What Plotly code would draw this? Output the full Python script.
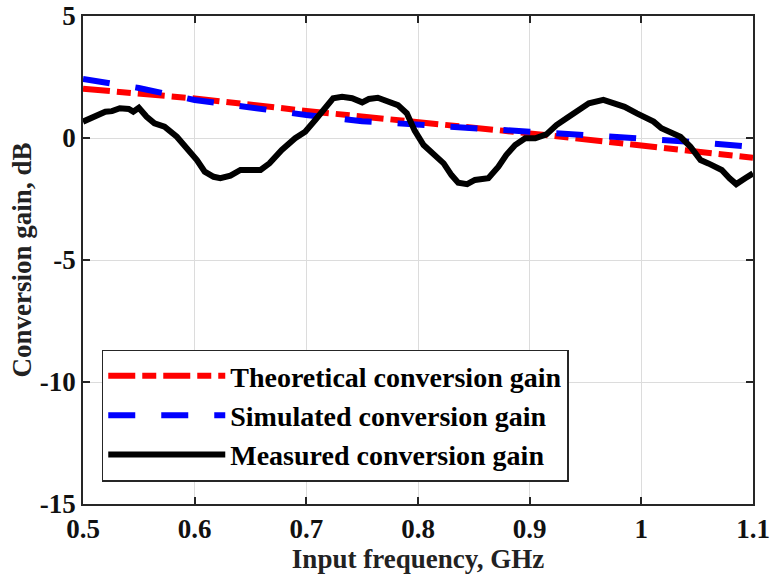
import plotly.graph_objects as go

# Theoretical conversion gain
theo_f = [0.5, 0.6, 0.7, 0.8, 0.9, 1.0, 1.1]
theo_g = [2.02, 1.62, 1.11, 0.67, 0.19, -0.31, -0.81]

# Simulated conversion gain
sim_f = [0.5, 0.55, 0.6, 0.65, 0.7, 0.75, 0.8, 0.85, 0.9, 0.95, 1.0, 1.05, 1.1]
sim_g = [2.42, 2.05, 1.56, 1.22, 0.94, 0.69, 0.53, 0.41, 0.26, 0.12, -0.01, -0.17, -0.37]

# Measured conversion gain
meas_f = [0.500, 0.509, 0.520, 0.526, 0.533, 0.541, 0.545, 0.550, 0.557, 0.564, 0.573, 0.584,
          0.593, 0.602, 0.609, 0.617, 0.623, 0.632, 0.641, 0.650, 0.659, 0.667, 0.678, 0.690,
          0.699, 0.708, 0.717, 0.724, 0.732, 0.741, 0.750, 0.756, 0.764, 0.773, 0.782, 0.790,
          0.797, 0.805, 0.814, 0.823, 0.830, 0.836, 0.844, 0.851, 0.863, 0.872, 0.879, 0.887,
          0.896, 0.905, 0.915, 0.924, 0.933, 0.945, 0.953, 0.966, 0.976, 0.985, 0.996, 1.005,
          1.011, 1.018, 1.027, 1.035, 1.044, 1.053, 1.060, 1.072, 1.079, 1.085, 1.093, 1.100]
meas_g = [0.67, 0.87, 1.08, 1.10, 1.22, 1.19, 1.08, 1.24, 0.87, 0.60, 0.46, 0.05,
          -0.42, -0.90, -1.38, -1.59, -1.65, -1.54, -1.31, -1.31, -1.31, -1.04, -0.49, -0.01,
          0.26, 0.74, 1.28, 1.63, 1.69, 1.63, 1.46, 1.60, 1.65, 1.52, 1.35, 1.01,
          0.30, -0.29, -0.63, -1.04, -1.52, -1.83, -1.89, -1.72, -1.65, -1.18, -0.70, -0.29,
          -0.01, -0.01, 0.15, 0.53, 0.81, 1.15, 1.42, 1.56, 1.42, 1.28, 1.01, 0.81,
          0.67, 0.40, 0.19, 0.05, -0.36, -0.90, -1.04, -1.31, -1.65, -1.89, -1.65, -1.45]

x_ticks = [0.5, 0.6, 0.7, 0.8, 0.9, 1.0, 1.1]
x_tick_labels = ["0.5", "0.6", "0.7", "0.8", "0.9", "1", "1.1"]
y_ticks = [-15, -10, -5, 0, 5]
y_tick_labels = ["-15", "-10", "-5", "0", "5"]

FONT = "Liberation Serif, Times New Roman, serif"
AX = "#262626"

fig = go.Figure()
fig.add_trace(go.Scatter(x=theo_f, y=theo_g, mode="lines", name="Theoretical conversion gain",
                         line=dict(color="#FF0000", width=6, dash="27px,7px,14px,7px")))
fig.add_trace(go.Scatter(x=sim_f, y=sim_g, mode="lines", name="Simulated conversion gain",
                         line=dict(color="#0000FF", width=6, dash="27px,26px")))
fig.add_trace(go.Scatter(x=meas_f, y=meas_g, mode="lines", name="Measured conversion gain",
                         line=dict(color="#000000", width=6)))

axis_common = dict(
    showline=True, linecolor=AX, linewidth=1.5, mirror="ticks",
    ticks="inside", ticklen=7, tickwidth=1.5, tickcolor=AX,
    showgrid=True, gridcolor="#DCDCDC", gridwidth=1, zeroline=False,
    automargin=False,
    tickfont=dict(family=FONT, size=27, color="#111111", weight="bold"),
)

fig.update_layout(
    width=771, height=575,
    margin=dict(l=83, r=18, t=16, b=71),
    paper_bgcolor="white", plot_bgcolor="white",
    font=dict(family=FONT, size=27, color="#111111", weight="bold"),
    xaxis=dict(range=[0.5, 1.1], tickvals=x_ticks, ticktext=x_tick_labels,
               title=dict(text="Input frequency, GHz", standoff=0,
                          font=dict(family=FONT, size=27, color="#222222", weight="bold")),
               **axis_common),
    yaxis=dict(range=[-15, 5], tickvals=y_ticks, ticktext=y_tick_labels,
               title=dict(text="Conversion gain, dB", standoff=0,
                          font=dict(family=FONT, size=27, color="#222222", weight="bold")),
               **axis_common),
    legend=dict(x=0.028, y=0.046, xanchor="left", yanchor="bottom",
                bgcolor="white", bordercolor=AX, borderwidth=1.5,
                font=dict(family=FONT, size=28, color="#000000", weight="bold"),
                itemwidth=117, tracegroupgap=0),
    showlegend=True,
)

fig.write_html("out.html")
